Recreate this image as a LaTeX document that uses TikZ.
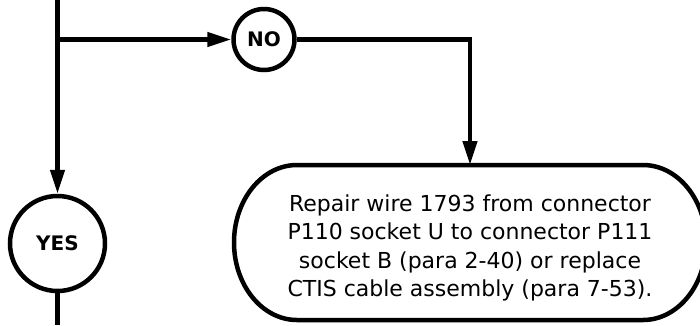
\documentclass[tikz,border=0pt]{standalone}
\usepackage{fontspec}
\newfontfamily\dv{DejaVu Sans}
\usetikzlibrary{arrows.meta}
\tikzset{
  flow/.style={line width=4.5pt, draw=black},
  arr/.style={flow, -{Triangle[length=24pt,width=14pt]}},
  decision/.style={circle, draw=black, line width=4.5pt, inner sep=0pt,
    font=\dv\bfseries\fontsize{20}{24}\selectfont},
  boxframe/.style={rectangle, draw=none, inner sep=0pt, outer sep=0pt,
    minimum width=472pt, minimum height=155pt},
  boxtext/.style={align=center, inner sep=0pt,
    font=\dv\fontsize{22}{28.5}\selectfont}
}
\begin{document}
\begin{tikzpicture}[x=1pt,y=-1pt]
\useasboundingbox (0,0) rectangle (700,325);
\clip (0,0) rectangle (700,325);
% nodes
\node[decision, minimum size=61pt] (no) at (264,39.5) {NO};
\node[decision, minimum size=95pt] (yes) at (57.5,243.5) {YES};
\node[boxframe] (box) at (470,242.5) {};
\node[boxtext] (txt) at (470,247.7) {Repair wire 1793 from connector\\P110 socket U to connector P111\\socket B (para 2-40) or replace\\CTIS cable assembly (para 7-53).};
% box outline
\draw[flow] ([xshift=63pt]box.north west) -- ([xshift=-63pt]box.north east)
  arc[start angle=90, end angle=-90, x radius=63pt, y radius=77.5pt]
  -- ([xshift=63pt]box.south west)
  arc[start angle=270, end angle=90, x radius=63pt, y radius=77.5pt] -- cycle;
% connectors
\coordinate (top) at (57.5,0);
\coordinate (branch) at (57.5,39.5);
\coordinate (corner) at (470,39.5);
\coordinate (bot) at (57.5,325);
\draw[arr] (top) -- (yes);
\draw[arr] (branch) -- (no);
\draw[arr] (no) -- (corner) -- (box.north);
\draw[flow] (yes) -- (bot);
\end{tikzpicture}
\end{document}
